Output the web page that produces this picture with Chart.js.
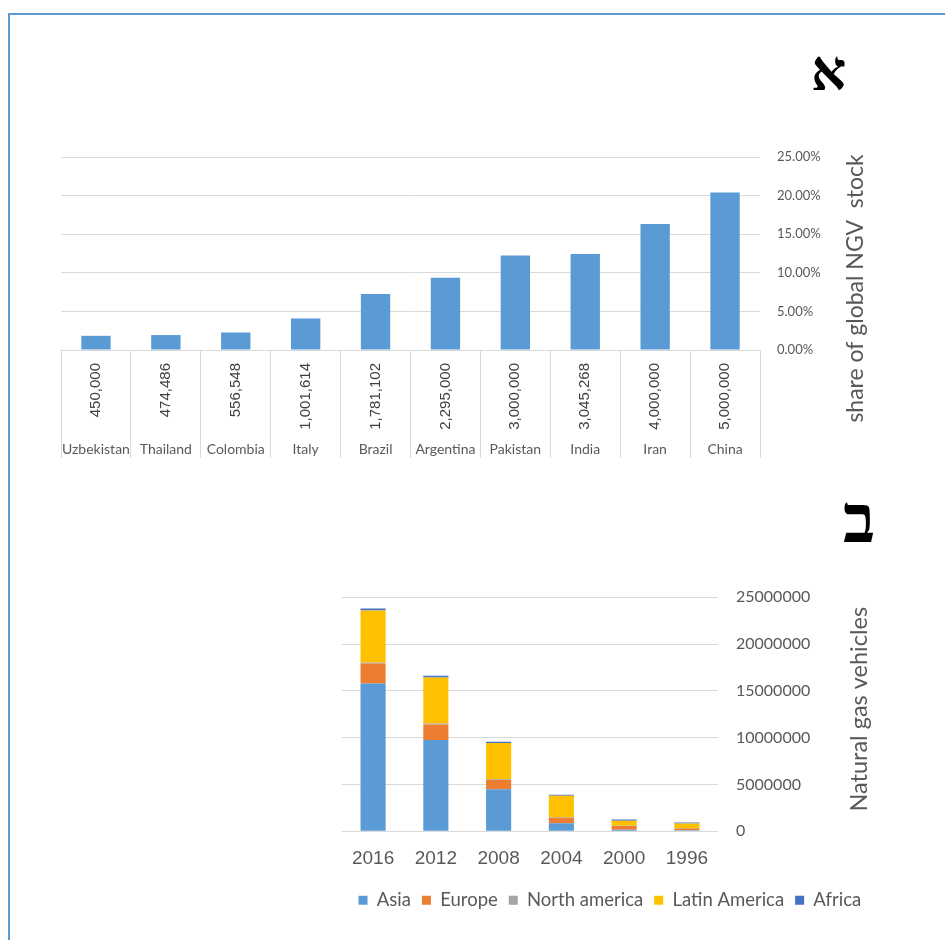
<!DOCTYPE html>
<html>
<head>
<meta charset="utf-8">
<script src="https://cdn.jsdelivr.net/npm/chart.js@4.4.0/dist/chart.umd.min.js"></script>
<style>
  html, body { margin: 0; padding: 0; background: #fff; }
  body { width: 945px; height: 940px; position: relative; overflow: hidden; }
  .frame { position: absolute; left: 8px; top: 13px; width: 960px; height: 960px;
           border-left: 2px solid #5b9bd5; border-top: 2px solid #5b9bd5; }
  .panel { position: absolute; }
  #shareWrap { left: 40px; top: 130px; }
  #vehWrap { left: 330px; top: 570px; }
  .mark { position: absolute; font-family: "Liberation Serif", "DejaVu Serif", serif;
          font-weight: bold; line-height: 1; color: #000; }
</style>
</head>
<body>
<div class="frame"></div>
<div class="mark" style="left:811px; top:44px; font-size:55px;">א</div>
<div class="mark" style="left:843px; top:486px; font-size:67px;">ב</div>
<div class="panel" id="shareWrap"><canvas id="shareChart" width="905" height="340"></canvas></div>
<div class="panel" id="vehWrap"><canvas id="vehChart" width="548" height="360"></canvas></div>

<script>
// Top panel: NGV fleet by country and its share of the global stock
const countries = ['Uzbekistan', 'Thailand', 'Colombia', 'Italy', 'Brazil',
                   'Argentina', 'Pakistan', 'India', 'Iran', 'China'];
const ngvCounts = [450000, 474486, 556548, 1001614, 1781102,
                   2295000, 3000000, 3045268, 4000000, 5000000];
const globalNgvStock = 24500000;
const shareTickStep = 0.05;
const shareMax = 0.25;

// Bottom panel: natural gas vehicles by region and year
const years = ['2016', '2012', '2008', '2004', '2000', '1996'];
const asia         = [15800000, 9760000, 4480000, 850000, 150000, 100000];
const europe       = [2120000, 1650000, 1000000, 600000, 400000, 200000];
const northAmerica = [120000, 100000, 80000, 30000, 20000, 20000];
const latinAmerica = [5550000, 4930000, 3880000, 2320000, 560000, 490000];
const africa       = [200000, 180000, 110000, 100000, 120000, 120000];
const vehTickStep = 5000000;
const vehMax = 25000000;

const shareValues = ngvCounts.map(v => v / globalNgvStock);

// Vertical axis title reading bottom-to-top, placed beside the right axis
const sideTitle = {
  id: 'sideTitle',
  afterDraw(chart, args, opts) {
    if (!opts || !opts.text) return;
    const { ctx, chartArea } = chart;
    const y = chart.scales.y;
    ctx.save();
    ctx.font = opts.font;
    ctx.fillStyle = opts.color;
    ctx.textAlign = 'center';
    ctx.textBaseline = 'middle';
    ctx.translate(y.left + opts.dx, (chartArea.top + chartArea.bottom) / 2 + opts.dy);
    ctx.rotate(-Math.PI / 2);
    ctx.fillText(opts.text, 0, 0);
    ctx.restore();
  }
};

// Fleet sizes written upright under each country column
const countLabels = {
  id: 'countLabels',
  afterDraw(chart, args, opts) {
    if (!opts || !opts.values) return;
    const { ctx } = chart;
    const x = chart.scales.x;
    ctx.save();
    ctx.font = opts.font;
    ctx.fillStyle = opts.color;
    ctx.textAlign = 'right';
    ctx.textBaseline = 'middle';
    opts.values.forEach((v, i) => {
      ctx.save();
      ctx.translate(x.getPixelForTick(i), x.top + opts.gap);
      ctx.rotate(-Math.PI / 2);
      ctx.fillText(v.toLocaleString('en-US'), 0, 0);
      ctx.restore();
    });
    ctx.restore();
  }
};

new Chart(document.getElementById('shareChart'), {
  type: 'bar',
  data: {
    labels: countries,
    datasets: [{
      data: shareValues,
      backgroundColor: '#5b9bd5',
      barPercentage: 0.42,
      categoryPercentage: 1
    }]
  },
  options: {
    responsive: false,
    animation: false,
    layout: { padding: { left: 21, top: 27, right: 0, bottom: 0 } },
    plugins: {
      legend: { display: false },
      tooltip: { enabled: false },
      sideTitle: { text: 'share of global NGV  stock', font: '23px Lato', color: '#595959', dx: 96, dy: 35 },
      countLabels: { values: ngvCounts, font: '15px "Liberation Sans"', color: '#404040', gap: 13 }
    },
    scales: {
      x: {
        grid: { display: true, drawOnChartArea: false, drawTicks: true, tickLength: 108, color: '#d9d9d9', offset: true },
        border: { display: true, color: '#d9d9d9' },
        ticks: { padding: -17, maxRotation: 0, autoSkip: false, color: '#595959', font: { family: 'Lato', size: 14 } },
        afterFit: s => { s.height = 120; }
      },
      y: {
        position: 'right',
        min: 0,
        max: shareMax,
        grid: { color: '#d9d9d9', drawTicks: false },
        border: { display: false },
        ticks: {
          stepSize: shareTickStep,
          padding: 17,
          color: '#595959',
          font: { family: 'Lato', size: 13 },
          callback: v => (v * 100).toFixed(2) + '%'
        },
        afterFit: s => { s.width = 185; }
      }
    }
  },
  plugins: [sideTitle, countLabels]
});

new Chart(document.getElementById('vehChart'), {
  type: 'bar',
  data: {
    labels: years,
    datasets: [
      { label: 'Asia', data: asia, backgroundColor: '#5b9bd5' },
      { label: 'Europe', data: europe, backgroundColor: '#ed7d31' },
      { label: 'North america', data: northAmerica, backgroundColor: '#a5a5a5' },
      { label: 'Latin America', data: latinAmerica, backgroundColor: '#ffc000' },
      { label: 'Africa', data: africa, backgroundColor: '#4472c4' }
    ]
  },
  options: {
    responsive: false,
    animation: false,
    datasets: { bar: { barPercentage: 0.40, categoryPercentage: 1 } },
    layout: { padding: { left: 11.7, top: 21.5, right: 0, bottom: 10.5 } },
    plugins: {
      tooltip: { enabled: false },
      legend: {
        position: 'bottom',
        labels: { boxWidth: 9, boxHeight: 9, padding: 11, color: '#595959', font: { family: 'Lato', size: 18.5 } }
      },
      sideTitle: { text: 'Natural gas vehicles', font: '23.5px Lato', color: '#595959', dx: 141, dy: -5 }
    },
    scales: {
      x: {
        stacked: true,
        grid: { display: false },
        border: { display: false },
        ticks: { padding: 8, color: '#595959', font: { family: 'Liberation Sans', size: 19 } },
        afterFit: s => { s.height = 48.8; }
      },
      y: {
        stacked: true,
        position: 'right',
        min: 0,
        max: vehMax,
        grid: { color: '#d9d9d9', drawTicks: false },
        border: { display: false },
        ticks: {
          stepSize: vehTickStep,
          padding: 17.7,
          color: '#595959',
          font: { family: 'Lato', size: 16 },
          callback: v => String(v)
        },
        afterFit: s => { s.width = 159.7; }
      }
    }
  },
  plugins: [sideTitle]
});
</script>
</body>
</html>
